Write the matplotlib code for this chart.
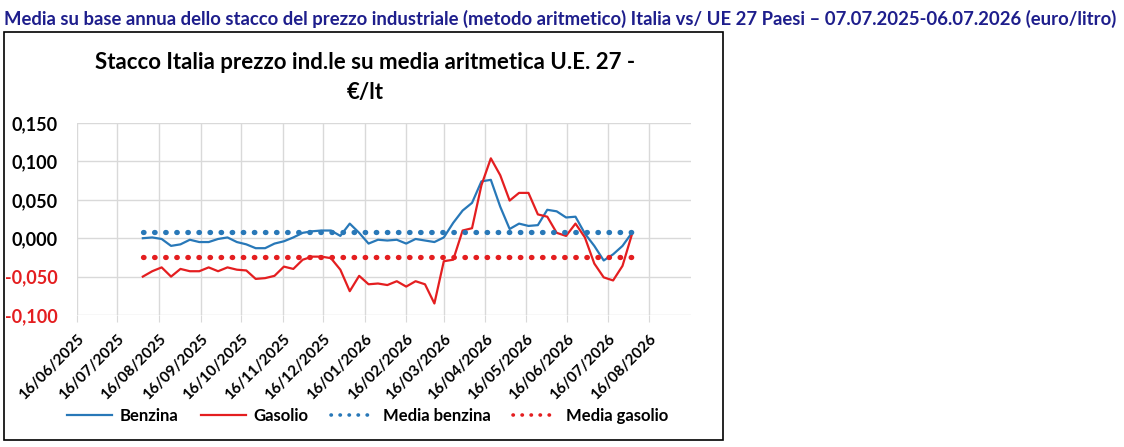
import numpy as np
import pandas as pd
import matplotlib
matplotlib.use("Agg")
import matplotlib.pyplot as plt
import matplotlib.dates as mdates
from matplotlib.lines import Line2D
from matplotlib.patches import Rectangle

# _____________________ DATA _____________________________

dates = pd.date_range("2025-08-04", periods=53, freq="7D")

benzina = [0.000, 0.001, -0.001, -0.010, -0.008, -0.002, -0.005, -0.005, -0.001, 0.001,
           -0.005, -0.008, -0.013, -0.013, -0.007, -0.004, 0.001, 0.007, 0.009, 0.010,
           0.010, 0.003, 0.019, 0.007, -0.007, -0.002, -0.003, -0.002, -0.007, -0.001,
           -0.003, -0.005, 0.001, 0.020, 0.036, 0.046, 0.074, 0.076, 0.041, 0.012,
           0.019, 0.016, 0.017, 0.037, 0.035, 0.027, 0.028, 0.006, -0.010, -0.029,
           -0.021, -0.010, 0.007]

gasolio = [-0.050, -0.043, -0.038, -0.050, -0.040, -0.043, -0.043, -0.038, -0.043, -0.038,
           -0.041, -0.042, -0.053, -0.052, -0.049, -0.037, -0.040, -0.028, -0.024, -0.024,
           -0.026, -0.041, -0.069, -0.049, -0.060, -0.059, -0.061, -0.056, -0.063, -0.056,
           -0.060, -0.085, -0.030, -0.028, 0.010, 0.013, 0.069, 0.104, 0.082, 0.049,
           0.059, 0.059, 0.031, 0.028, 0.007, 0.003, 0.019, 0.001, -0.033, -0.051,
           -0.055, -0.036, 0.005]

media_benzina = 0.0075
media_gasolio = -0.024

tick_dates = pd.date_range("2025-06-01", "2026-08-01", freq="MS") + pd.Timedelta(days=15)
y_ticks = [-0.100, -0.050, 0.000, 0.050, 0.100, 0.150]

title = ("Media su base annua dello stacco del prezzo industriale (metodo aritmetico) "
         "Italia vs/ UE 27 Paesi \u2013 07.07.2025-06.07.2026 (euro/litro)")
chart_title = "Stacco Italia prezzo ind.le su media aritmetica U.E. 27 -\n\u20ac/lt"

# _____________________ STYLE _____________________________

plt.rcParams["font.family"] = ["Lato", "DejaVu Sans"]
plt.rcParams["font.weight"] = "bold"

blue = "#2878B8"
red = "#E41E20"
grid_col = "#D9D9D9"
dots = (0, (0.1, 2.0))
small_dots = (0, (0.1, 2.4))

fig = plt.figure(figsize=(11.24, 4.47), dpi=100)

fig.text(0.004, 0.957, title, color="#1E1E8C", fontsize=13.3, fontweight="bold",
         ha="left", va="center")
fig.patches.append(Rectangle((0.004, 0.015), 0.639, 0.913, transform=fig.transFigure,
                             fill=False, edgecolor="black", linewidth=1.2))
fig.text(0.325, 0.826, chart_title, fontsize=16, fontweight="bold", ha="center",
         va="center", linespacing=1.55)

ax = fig.add_axes([0.0685, 0.2953, 0.5463, 0.4295])

ax.plot(dates, benzina, color=blue, lw=1.6, label="Benzina")
ax.plot(dates, gasolio, color=red, lw=1.6, label="Gasolio")
ax.plot(dates, [media_benzina] * len(dates), color=blue, lw=3.8, linestyle=dots,
        dash_capstyle="round", label="Media benzina")
ax.plot(dates, [media_gasolio] * len(dates), color=red, lw=3.8, linestyle=dots,
        dash_capstyle="round", label="Media gasolio")

ax.set_xlim(pd.Timestamp("2025-06-16"), pd.Timestamp("2026-09-16"))
ax.set_ylim(-0.100, 0.150)
ax.set_xticks(tick_dates)
ax.xaxis.set_major_formatter(mdates.DateFormatter("%d/%m/%Y"))
ax.set_yticks(y_ticks)
ax.set_yticklabels([("%.3f" % v).replace(".", ",") for v in y_ticks])
for lab, v in zip(ax.get_yticklabels(), y_ticks):
    lab.set_color(red if v < 0 else "black")

ax.grid(True, color=grid_col, linewidth=1.0)
ax.set_axisbelow(True)
for s in ax.spines.values():
    s.set_visible(False)
ax.tick_params(axis="y", length=0, labelsize=13, pad=14)
ax.tick_params(axis="x", length=5, color=grid_col, labelsize=11, pad=7)
plt.setp(ax.get_xticklabels(), rotation=45, ha="right", rotation_mode="anchor",
         fontweight="bold")
plt.setp(ax.get_yticklabels(), fontweight="bold")

handles = [Line2D([], [], color=blue, lw=1.6),
           Line2D([], [], color=red, lw=1.6),
           Line2D([], [], color=blue, lw=2.6, linestyle=small_dots, dash_capstyle="round"),
           Line2D([], [], color=red, lw=2.6, linestyle=small_dots, dash_capstyle="round")]
fig.legend(handles, ["Benzina", "Gasolio", "Media benzina", "Media gasolio"],
           loc="center", bbox_to_anchor=(0.327, 0.069), ncol=4, frameon=False,
           prop={"size": 12, "weight": "bold"}, handlelength=2.7, handletextpad=0.45,
           columnspacing=1.35)

plt.savefig("out.png", dpi=100)
